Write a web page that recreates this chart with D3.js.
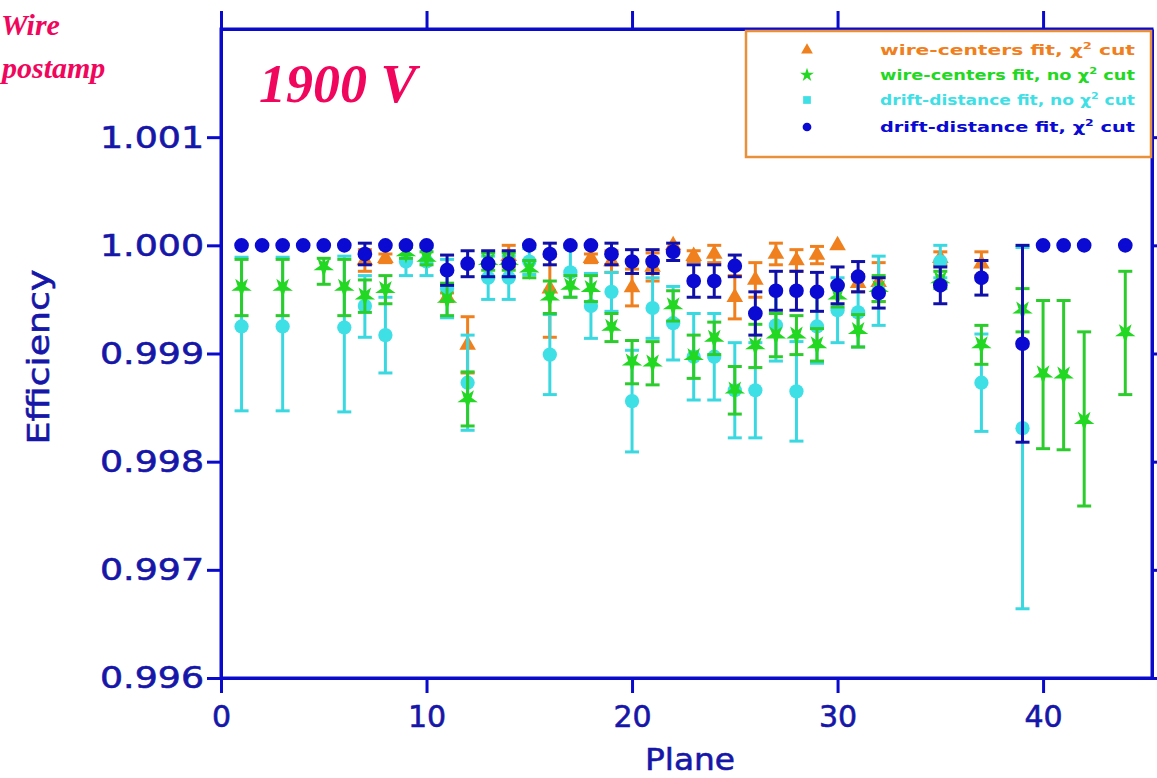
<!DOCTYPE html>
<html><head><meta charset="utf-8">
<script src="https://cdn.jsdelivr.net/npm/d3@7"></script>
<style>body{margin:0;background:#fff;} svg{display:block}</style>
</head><body>
<svg id="c" width="1157" height="778"></svg>
<script>
// ---------------- DATA ----------------
const seriesLabels = ["wire-centers fit, ", "wire-centers fit, no ", "drift-distance fit, no ", "drift-distance fit, "];

// orange: wire-centers fit, chi2 cut
const orangePlanes = [7, 8, 11, 12, 14, 16, 18, 19, 20, 21, 22, 23, 24, 25, 26, 27, 28, 29, 30, 31, 32, 35, 37];
const orangeValues = [0.99986, 0.99988, 0.99952, 0.99908, 0.99990, 0.99960, 0.99988, 0.99985, 0.99961, 0.99980, 1.00000, 0.99990, 0.99992, 0.99952, 0.99968, 0.99992, 0.99986, 0.99991, 1.00000, 0.99965, 0.99966, 0.99988, 0.99983];
const orangeErrLo  = [0.00010, 0.00004, 0.00004, 0.00026, 0.00010, 0.00045, 0.00004, 0.00010, 0.00017, 0.00013, 0, 0.00005, 0.00008, 0.00020, 0.00016, 0.00010, 0.00010, 0.00008, 0, 0.00008, 0.00018, 0.00006, 0.00011];
const orangeErrHi  = [0.00010, 0.00004, 0.00004, 0.00026, 0.00010, 0.00030, 0.00004, 0.00010, 0.00017, 0.00013, 0, 0.00005, 0.00008, 0.00020, 0.00016, 0.00010, 0.00010, 0.00008, 0, 0.00008, 0.00018, 0.00006, 0.00011];

// green: wire-centers fit, no chi2 cut
const greenPlanes = [1, 3, 5, 6, 7, 8, 9, 10, 11, 12, 13, 14, 15, 16, 17, 18, 19, 20, 21, 22, 23, 24, 25, 26, 27, 28, 29, 30, 31, 32, 35, 37, 39, 40, 41, 42, 44];
const greenValues = [0.99961, 0.99961, 0.99980, 0.99961, 0.99953, 0.99959, 0.99993, 0.99988, 0.99950, 0.99858, 0.99985, 0.99985, 0.99978, 0.99952, 0.99962, 0.99960, 0.99924, 0.99892, 0.99891, 0.99944, 0.99897, 0.99914, 0.99866, 0.99907, 0.99917, 0.99917, 0.99908, 0.99953, 0.99921, 0.99960, 0.99968, 0.99908, 0.99940, 0.99881, 0.99880, 0.99838, 0.99919];
const greenErrLo  = [0.00026, 0.00026, 0.00016, 0.00026, 0.00015, 0.00013, 0.00005, 0.00006, 0.00015, 0.00025, 0.00008, 0.00008, 0.00008, 0.00015, 0.00010, 0.00012, 0.00013, 0.00020, 0.00020, 0.00014, 0.00020, 0.00015, 0.00022, 0.00020, 0.00020, 0.00018, 0.00015, 0.00010, 0.00015, 0.00012, 0.00008, 0.00018, 0.00020, 0.00069, 0.00069, 0.00079, 0.00057];
const greenErrHi  = [0.00026, 0.00026, 0.00008, 0.00026, 0.00015, 0.00013, 0.00005, 0.00006, 0.00015, 0.00025, 0.00008, 0.00008, 0.00008, 0.00015, 0.00010, 0.00012, 0.00013, 0.00020, 0.00020, 0.00014, 0.00020, 0.00015, 0.00022, 0.00020, 0.00020, 0.00018, 0.00015, 0.00010, 0.00015, 0.00012, 0.00008, 0.00018, 0.00020, 0.00068, 0.00069, 0.00082, 0.00057];

// cyan: drift-distance fit, no chi2 cut
const cyanPlanes = [1, 3, 6, 7, 8, 9, 10, 11, 12, 13, 14, 15, 16, 17, 18, 19, 20, 21, 22, 23, 24, 25, 26, 27, 28, 29, 30, 31, 32, 35, 37, 39];
const cyanValues = [0.99925, 0.99925, 0.99924, 0.99944, 0.99917, 0.99985, 0.99985, 0.99960, 0.99873, 0.99970, 0.99970, 0.99985, 0.99899, 0.99975, 0.99944, 0.99957, 0.99856, 0.99942, 0.99928, 0.99897, 0.99897, 0.99866, 0.99866, 0.99926, 0.99865, 0.99925, 0.99940, 0.99938, 0.99958, 0.99985, 0.99873, 0.99831];
const cyanErrLo  = [0.00078, 0.00078, 0.00078, 0.00029, 0.00035, 0.00013, 0.00013, 0.00027, 0.00044, 0.00020, 0.00020, 0.00012, 0.00037, 0.00023, 0.00030, 0.00018, 0.00047, 0.00028, 0.00034, 0.00040, 0.00040, 0.00044, 0.00044, 0.00033, 0.00046, 0.00034, 0.00030, 0.00032, 0.00032, 0.00015, 0.00045, 0.00167];
const cyanErrHi  = [0.00064, 0.00064, 0.00066, 0.00028, 0.00035, 0.00013, 0.00013, 0.00027, 0.00044, 0.00020, 0.00020, 0.00012, 0.00037, 0.00023, 0.00030, 0.00018, 0.00047, 0.00028, 0.00034, 0.00040, 0.00040, 0.00044, 0.00044, 0.00033, 0.00046, 0.00034, 0.00030, 0.00032, 0.00032, 0.00015, 0.00045, 0.00167];

// blue: drift-distance fit, chi2 cut
const bluePlanes = [1, 2, 3, 4, 5, 6, 7, 8, 9, 10, 11, 12, 13, 14, 15, 16, 17, 18, 19, 20, 21, 22, 23, 24, 25, 26, 27, 28, 29, 30, 31, 32, 35, 37, 39, 40, 41, 42, 44];
const blueValues = [1, 1, 1, 1, 1, 1, 0.99992, 1, 1, 1, 0.99977, 0.99983, 0.99983, 0.99983, 1, 0.99992, 1, 1, 0.99992, 0.99985, 0.99985, 0.99994, 0.99967, 0.99967, 0.99981, 0.99937, 0.99958, 0.99958, 0.99957, 0.99963, 0.99971, 0.99956, 0.99963, 0.99970, 0.99909, 1, 1, 1, 1];
const blueErr    = [0, 0, 0, 0, 0, 0, 0.00010, 0, 0, 0, 0.00014, 0.00012, 0.00012, 0.00012, 0, 0.00010, 0, 0, 0.00010, 0.00011, 0.00011, 0.00008, 0.00015, 0.00015, 0.00010, 0.00020, 0.00018, 0.00018, 0.00018, 0.00017, 0.00014, 0.00014, 0.00017, 0.00016, 0.00091, 0, 0, 0, 0];

const xTicks = [0, 10, 20, 30, 40];
const yTicks = [0.996, 0.997, 0.998, 0.999, 1.000, 1.001];

// ---------------- CHART ----------------
const svg = d3.select("#c");
const x = d3.scaleLinear().domain([0, 45.3]).range([221, 1152]);
const y = d3.scaleLinear().domain([0.996, 1.002]).range([678, 29]);
const axisColor = "#0a0acc";
const labelColor = "#1616a8";

function zip(p, v, lo, hi) { return p.map((d, i) => ({p: d, v: v[i], lo: lo[i], hi: hi[i]})); }
const orange = zip(orangePlanes, orangeValues, orangeErrLo, orangeErrHi);
const green = zip(greenPlanes, greenValues, greenErrLo, greenErrHi);
const cyan = zip(cyanPlanes, cyanValues, cyanErrLo, cyanErrHi);
const blue = zip(bluePlanes, blueValues, blueErr, blueErr);

const series = [
  {data: orange, color: "#f0801e", bar: "#f0801e", sym: d3.symbolTriangle, size: 120, rot: 0},
  {data: cyan, color: "#3ee0e6", bar: "#3ad8e0", sym: d3.symbolCircle, size: 160, rot: 0},
  {data: green, color: "#22d822", bar: "#2ccc2c", sym: d3.symbolStar, size: 130, rot: 180},
  {data: blue, color: "#0a0ad2", bar: "#1010a8", sym: d3.symbolCircle, size: 170, rot: 0}
];

const plot = svg.append("g");
series.forEach(s => {
  const g = plot.append("g");
  const withErr = s.data.filter(d => d.lo > 0 || d.hi > 0);
  g.selectAll("line.bar").data(withErr).join("line")
    .attr("x1", d => x(d.p)).attr("x2", d => x(d.p))
    .attr("y1", d => y(d.v - d.lo)).attr("y2", d => y(d.v + d.hi))
    .attr("stroke", s.bar).attr("stroke-width", 3);
  g.selectAll("line.capt").data(withErr).join("line")
    .attr("x1", d => x(d.p) - 7).attr("x2", d => x(d.p) + 7)
    .attr("y1", d => y(d.v + d.hi)).attr("y2", d => y(d.v + d.hi))
    .attr("stroke", s.bar).attr("stroke-width", 3);
  g.selectAll("line.capb").data(withErr).join("line")
    .attr("x1", d => x(d.p) - 7).attr("x2", d => x(d.p) + 7)
    .attr("y1", d => y(d.v - d.lo)).attr("y2", d => y(d.v - d.lo))
    .attr("stroke", s.bar).attr("stroke-width", 3);
  g.selectAll("path.m").data(s.data).join("path")
    .attr("d", d3.symbol(s.sym, s.size))
    .attr("transform", d => `translate(${x(d.p)},${y(d.v)}) rotate(${s.rot})`)
    .attr("fill", s.color);
});

// axes
function styleAxis(g) {
  g.select(".domain").attr("stroke", axisColor).attr("stroke-width", 3);
  g.selectAll(".tick line").attr("stroke", axisColor).attr("stroke-width", 3);
}
svg.append("g").attr("transform", "translate(0,678)")
  .call(d3.axisBottom(x).tickValues(xTicks).tickSize(15).tickSizeOuter(0).tickPadding(12).tickFormat(d3.format("d")))
  .call(styleAxis)
  .call(g => g.selectAll("text").attr("font-family", "DejaVu Sans").attr("font-size", 30).attr("fill", labelColor)
     .attr("stroke", labelColor).attr("stroke-width", 0.6).attr("dy", "0.72em"));
svg.append("g").attr("transform", "translate(0,29)")
  .call(d3.axisTop(x).tickValues(xTicks).tickSize(18).tickSizeOuter(0).tickFormat(""))
  .call(styleAxis);
svg.append("g").attr("transform", "translate(221,0)")
  .call(d3.axisLeft(y).tickValues(yTicks).tickSize(14).tickSizeOuter(0).tickPadding(3).tickFormat(d3.format(".3f")))
  .call(styleAxis)
  .call(g => g.selectAll("text").attr("font-family", "DejaVu Sans").attr("font-size", 31).attr("fill", labelColor)
     .attr("stroke", labelColor).attr("stroke-width", 0.6)
     .attr("textLength", 104).attr("lengthAdjust", "spacingAndGlyphs"));
svg.append("g").attr("transform", "translate(1152,0)")
  .call(d3.axisRight(y).tickValues(yTicks).tickSize(14).tickSizeOuter(0).tickFormat(""))
  .call(styleAxis);
svg.append("rect").attr("x", 221).attr("y", 29).attr("width", 1152 - 221).attr("height", 678 - 29)
  .attr("fill", "none").attr("stroke", axisColor).attr("stroke-width", 3);

// axis titles
svg.append("text").attr("x", 690).attr("y", 770).attr("text-anchor", "middle")
  .attr("font-family", "DejaVu Sans").attr("font-size", 31).attr("fill", labelColor)
  .attr("stroke", labelColor).attr("stroke-width", 0.6)
  .attr("textLength", 90).attr("lengthAdjust", "spacingAndGlyphs").text("Plane");
svg.append("text").attr("transform", "translate(49,357) rotate(-90)").attr("text-anchor", "middle")
  .attr("font-family", "DejaVu Sans").attr("font-size", 31).attr("fill", labelColor)
  .attr("stroke", labelColor).attr("stroke-width", 0.6)
  .attr("textLength", 175).attr("lengthAdjust", "spacingAndGlyphs").text("Efficiency");

// legend
const leg = svg.append("g");
leg.append("rect").attr("x", 746).attr("y", 31).attr("width", 405).attr("height", 126)
  .attr("fill", "#fff").attr("stroke", "#e8913a").attr("stroke-width", 2.5);
const legItems = [
  {label: seriesLabels[0], sym: d3.symbolTriangle, color: "#f0801e"},
  {label: seriesLabels[1], sym: d3.symbolStar, color: "#22d822"},
  {label: seriesLabels[2], sym: d3.symbolSquare, color: "#3ee0e6"},
  {label: seriesLabels[3], sym: d3.symbolCircle, color: "#0a0ad2"}
];
const legY = [50, 75, 100, 127];
legItems.forEach((it, i) => {
  leg.append("path").attr("d", d3.symbol(it.sym, 60)).attr("transform", `translate(807,${legY[i]})`).attr("fill", it.color);
  const t = leg.append("text").attr("x", 880).attr("y", legY[i] + 5)
    .attr("font-family", "DejaVu Sans").attr("font-weight", "bold").attr("font-size", 14)
    .attr("fill", it.color).attr("textLength", 255).attr("lengthAdjust", "spacingAndGlyphs");
  t.append("tspan").text(it.label + "\u03C7");
  t.append("tspan").attr("font-size", 9).attr("dy", -6).text("2");
  t.append("tspan").attr("dy", 6).text(" cut");
});

// annotations
const ann = "#f0065c";
svg.append("text").attr("x", 1).attr("y", 35)
  .attr("font-family", "Liberation Serif").attr("font-style", "italic").attr("font-weight", "bold")
  .attr("font-size", 30).attr("fill", ann).text("Wire");
svg.append("text").attr("x", 2).attr("y", 78)
  .attr("font-family", "Liberation Serif").attr("font-style", "italic").attr("font-weight", "bold")
  .attr("font-size", 30).attr("fill", ann).text("postamp");
svg.append("text").attr("x", 259).attr("y", 102)
  .attr("font-family", "Liberation Serif").attr("font-style", "italic").attr("font-weight", "bold")
  .attr("font-size", 54).attr("fill", ann).text("1900 V");
</script>
</body></html>
